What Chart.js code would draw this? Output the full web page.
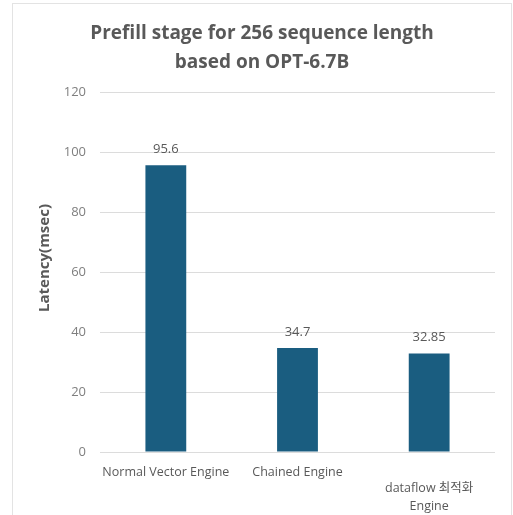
<!DOCTYPE html>
<html>
<head>
<meta charset="utf-8">
<script src="https://cdn.jsdelivr.net/npm/chart.js@4.4.1/dist/chart.umd.min.js"></script>
<style>
  html, body { margin: 0; padding: 0; background: #ffffff; }
  #frame {
    position: absolute; left: 12px; top: 3px;
    width: 500px; height: 512px;
    box-sizing: border-box; border: 1px solid #e3e3e3; border-bottom: none; background: #fff;
  }
  #chart { display: block; }
</style>
</head>
<body>
<div id="frame"><canvas id="chart" width="498" height="511"></canvas></div>
<script>
// Prefill latency per engine type (OPT-6.7B, sequence length 256)
const categories = [
  'Normal Vector Engine',
  'Chained Engine',
  ['dataflow 최적화', 'Engine']
];
const latencyMs = [95.6, 34.7, 32.85];
const valueLabels = ['95.6', '34.7', '32.85'];
const titleLines = ['Prefill stage for 256 sequence length', 'based on OPT-6.7B'];
const yAxisTitle = 'Latency(msec)';
const yMin = 0, yMax = 120, yStep = 20;

const FONT = "'Open Sans', 'Noto Sans CJK KR', sans-serif";
const TEXT_DARK = '#595959';
const TEXT_LIGHT = '#7f7f7f';

// Value labels above each bar
const valueLabelPlugin = {
  id: 'valueLabels',
  afterDatasetsDraw(chart) {
    const ctx = chart.ctx;
    const meta = chart.getDatasetMeta(0);
    ctx.save();
    ctx.font = '13px ' + FONT;
    ctx.fillStyle = TEXT_DARK;
    ctx.textAlign = 'center';
    ctx.textBaseline = 'middle';
    meta.data.forEach((bar, i) => {
      ctx.fillText(valueLabels[i], bar.x, bar.y - 16);
    });
    ctx.restore();
  }
};

// Rotated y-axis title
const yTitlePlugin = {
  id: 'yTitle',
  afterDraw(chart) {
    const ctx = chart.ctx;
    ctx.save();
    ctx.translate(32, 254);
    ctx.rotate(-Math.PI / 2);
    ctx.font = 'bold 15px ' + FONT;
    ctx.fillStyle = TEXT_DARK;
    ctx.textAlign = 'center';
    ctx.textBaseline = 'middle';
    ctx.fillText(yAxisTitle, 0, 0);
    ctx.restore();
  }
};

new Chart(document.getElementById('chart'), {
  type: 'bar',
  data: {
    labels: categories,
    datasets: [{
      data: latencyMs,
      backgroundColor: '#1a5d80',
      borderWidth: 0,
      categoryPercentage: 1,
      barPercentage: 0.31
    }]
  },
  options: {
    responsive: false,
    animation: false,
    layout: { padding: { left: 16, right: 16, top: 0, bottom: 0 } },
    plugins: {
      legend: { display: false },
      tooltip: { enabled: false },
      title: {
        display: true,
        text: titleLines,
        color: TEXT_DARK,
        font: { family: FONT, size: 19, weight: 'bold', lineHeight: '29px' },
        padding: { top: 15, bottom: 15 }
      }
    },
    scales: {
      x: {
        grid: { display: false },
        border: { display: false },
        ticks: {
          color: TEXT_DARK,
          // wrapped labels sit a little lower than single-line ones
          callback(value, index) {
            const label = categories[index];
            return Array.isArray(label) ? [''].concat(label) : label;
          },
          font(ctx) {
            const wrapped = Array.isArray(categories[ctx.index]);
            return { family: FONT, size: 12.5, lineHeight: wrapped ? '18.2px' : '22px' };
          },
          padding: 1,
          maxRotation: 0,
          autoSkip: false
        },
        afterFit(scale) { scale.height = 63; }
      },
      y: {
        min: yMin,
        max: yMax,
        grid: { color: '#dcdcdc', lineWidth: 1, drawTicks: false },
        border: { display: false },
        ticks: {
          stepSize: yStep,
          color: TEXT_LIGHT,
          font: { family: FONT, size: 13 },
          padding: 14
        },
        afterFit(scale) { scale.width = 71; }
      }
    }
  },
  plugins: [valueLabelPlugin, yTitlePlugin]
});
</script>
</body>
</html>
